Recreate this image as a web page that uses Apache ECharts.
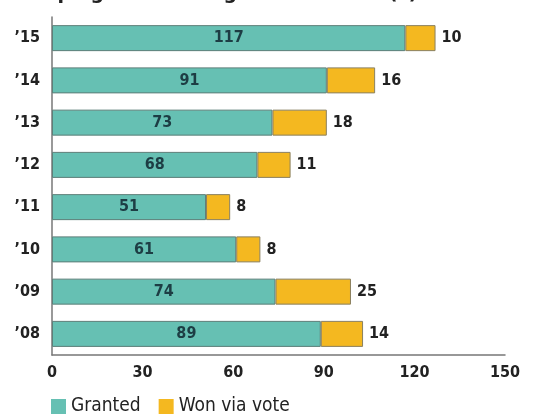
<!DOCTYPE html>
<html><head><meta charset="utf-8">
<script src="https://cdn.jsdelivr.net/npm/echarts@6/dist/echarts.min.js"></script>
<style>html,body{margin:0;padding:0;background:#fff}#c{width:551px;height:415px}</style>
</head><body><div id="c"></div>
<script>
const years = ['’08','’09','’10','’11','’12','’13','’14','’15'];
const granted = [89,74,61,51,68,73,91,117];
const wonViaVote = [14,25,8,8,11,18,16,10];
const xTicks = [0,30,60,90,120,150];

const FONT = '"DejaVu Sans Condensed","DejaVu Sans",sans-serif';
const chart = echarts.init(document.getElementById('c'), null, {renderer:'canvas'});
chart.setOption({
  animation:false,
  title:{text:'Campaigns Resulting in Board Seat(s)',left:6,top:-20,
    textStyle:{fontFamily:'"DejaVu Sans",sans-serif',fontSize:19,fontWeight:'bold',color:'#222'}},
  grid:{left:52,right:46,top:17,bottom:60,containLabel:false},
  legend:{left:46,top:392,itemWidth:15,itemHeight:15,itemGap:18,itemTextGap:4,icon:'rect',
    itemStyle:{borderWidth:0},
    textStyle:{fontFamily:FONT,fontSize:19,color:'#222'},
    data:['Granted','Won via vote']},
  xAxis:{type:'value',min:xTicks[0],max:xTicks[xTicks.length-1],interval:30,
    axisLine:{show:true,lineStyle:{color:'#777',width:1.5}},axisTick:{show:false},
    splitLine:{show:false},
    axisLabel:{margin:10,fontFamily:FONT,fontSize:16,fontWeight:'bold',color:'#222'}},
  yAxis:{type:'category',data:years,
    axisLine:{show:true,lineStyle:{color:'#777',width:1.5}},axisTick:{show:false},
    axisLabel:{margin:12,fontFamily:FONT,fontSize:16,fontWeight:'bold',color:'#222'}},
  series:[
    {name:'Granted',type:'bar',stack:'s',data:granted,barWidth:26,
     itemStyle:{color:'#66c0b3',borderColor:'#5d7e78',borderWidth:1},
     label:{show:true,position:'inside',fontFamily:FONT,fontSize:16,fontWeight:'bold',color:'#1d3d44'}},
    {name:'Won via vote',type:'bar',stack:'s',data:wonViaVote,barWidth:26,
     itemStyle:{color:'#f4b820',borderColor:'#8a8060',borderWidth:1},
     label:{show:true,position:'right',distance:6,fontFamily:FONT,fontSize:16,fontWeight:'bold',color:'#222'}}
  ]
});
</script></body></html>
